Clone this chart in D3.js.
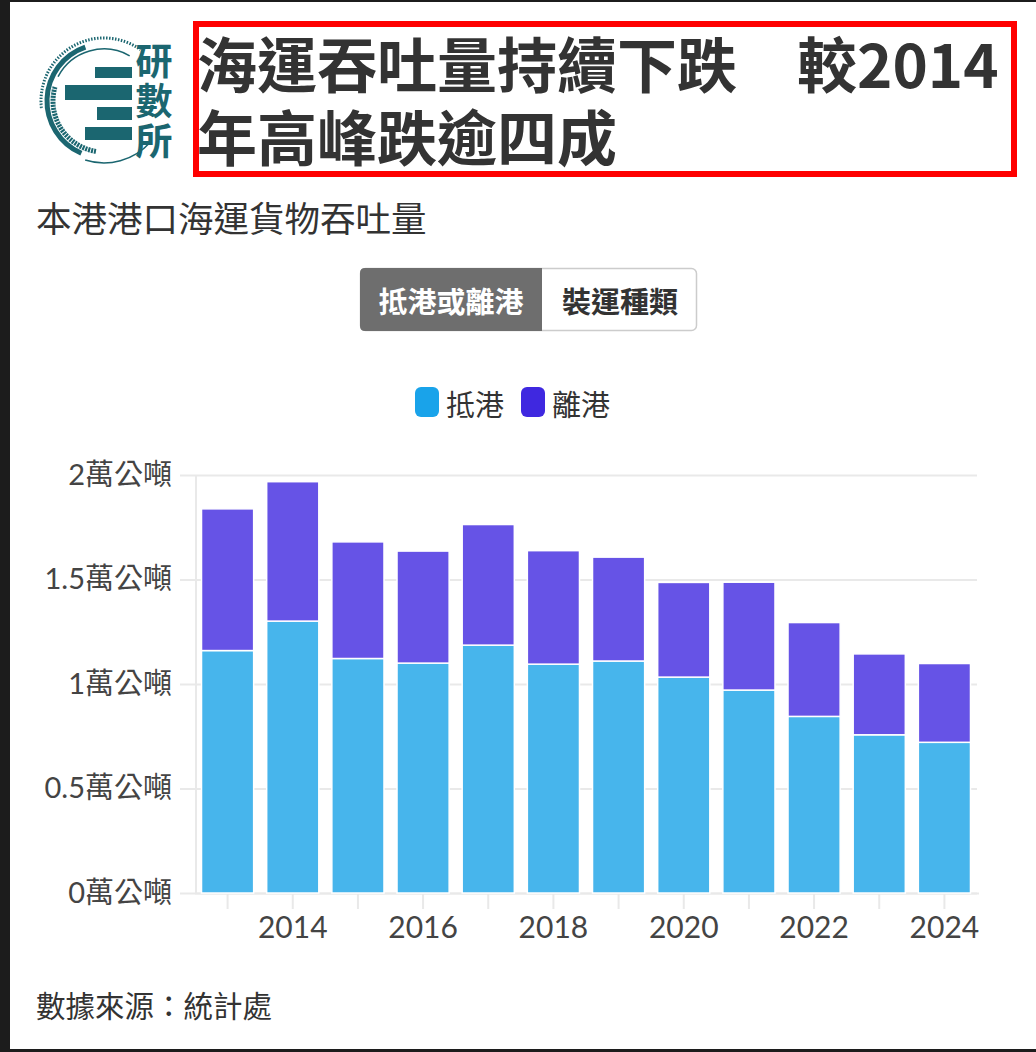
<!DOCTYPE html>
<html lang="zh-Hant">
<head>
<meta charset="UTF-8">
<title>本港港口海運貨物吞吐量</title>
<script src="https://d3js.org/d3.v7.min.js"></script>
<style>
  body { margin: 0; background: #fff; }
  #wrap { position: relative; width: 1036px; height: 1052px; }
  #chart svg { position: absolute; left: 0; top: 0; }
  #title { position: absolute; left: 197px; top: 25px; width: 815px;
           font-family: "Noto Sans CJK TC", sans-serif; font-weight: 700;
           font-size: 60px; line-height: 73px; color: #333; }
  text { font-family: Lato, "Noto Sans CJK TC", sans-serif; }
</style>
</head>
<body>
<div id="wrap">
  <div id="chart"></div>
  <div id="title"></div>
</div>
<script>
const years = [2013, 2014, 2015, 2016, 2017, 2018, 2019, 2020, 2021, 2022, 2023, 2024]
const arrivals = [1.160, 1.301, 1.122, 1.100, 1.186, 1.095, 1.110, 1.033, 0.971, 0.845, 0.757, 0.721]
const departures = [0.678, 0.667, 0.558, 0.536, 0.577, 0.543, 0.497, 0.453, 0.516, 0.449, 0.387, 0.377]
const seriesNames = ["抵港", "離港"]
const yTicks = [0, 0.5, 1, 1.5, 2]
const title = "海運吞吐量持續下跌　較2014年高峰跌逾四成"

const W = 1036, H = 1052
const cjk = '"Noto Sans CJK TC", sans-serif'
const colors = ["#47b5ec", "#6653e6"]
const legendColors = ["#19a3ea", "#3f28e0"]
const teal = "#1b6670"

const svg = d3.select("#chart").append("svg")
    .attr("width", W).attr("height", H)

// frame
svg.append("rect").attr("x", 0).attr("y", 0).attr("width", 10).attr("height", H).attr("fill", "#1c1c1c")
svg.append("rect").attr("x", 0).attr("y", 0).attr("width", W).attr("height", 2).attr("fill", "#1c1c1c")
svg.append("rect").attr("x", 0).attr("y", H - 3).attr("width", W).attr("height", 3).attr("fill", "#1c1c1c")

// logo
const logo = svg.append("g").attr("transform", "translate(104,101)")
const arcPath = (r, a0, a1) => d3.arc()({innerRadius: r, outerRadius: r, startAngle: a0, endAngle: a1})
logo.append("path").attr("d", arcPath(57, 3.55, 5.95))
    .attr("fill", "none").attr("stroke", teal).attr("stroke-width", 5)
logo.append("path").attr("d", arcPath(63, 4.6, 6.9))
    .attr("fill", "none").attr("stroke", teal).attr("stroke-width", 3).attr("stroke-dasharray", "1.2 1.8")
logo.append("path").attr("d", arcPath(51, 3.3, 5.0))
    .attr("fill", "none").attr("stroke", teal).attr("stroke-width", 5).attr("stroke-dasharray", "1.2 1.8")
logo.append("path").attr("d", arcPath(62, 2.3, 3.45))
    .attr("fill", "none").attr("stroke", teal).attr("stroke-width", 1.5)
logo.append("path").attr("d", arcPath(52, 5.2, 6.8))
    .attr("fill", "none").attr("stroke", teal).attr("stroke-width", 1.5)
const logoBars = [[-9, -34, 11], [-39, -16, 15], [-7, 6, 13], [-19, 26, 13]]
logo.selectAll(".lb").data(logoBars).enter().append("rect")
    .attr("x", d => d[0]).attr("y", d => d[1])
    .attr("width", d => 28 - d[0]).attr("height", d => d[2])
    .attr("fill", teal)
svg.append("text")
    .attr("x", 154).attr("y", 42)
    .style("writing-mode", "vertical-rl").style("letter-spacing", "3px")
    .style("font-family", cjk).style("font-weight", 700).style("font-size", "37px")
    .attr("fill", teal).text("研數所")

// title
svg.append("rect").attr("x", 196).attr("y", 24).attr("width", 818).attr("height", 150)
    .attr("fill", "none").attr("stroke", "#f00").attr("stroke-width", 6)
d3.select("#title").text(title)

svg.append("text").attr("x", 36).attr("y", 216).attr("dominant-baseline", "central")
    .style("font-family", cjk).style("font-size", "35.5px").attr("fill", "#333")
    .text("本港港口海運貨物吞吐量")

// buttons
const btn = svg.append("g")
btn.append("rect").attr("x", 360.5).attr("y", 268.5).attr("width", 336).attr("height", 62)
    .attr("rx", 5).attr("fill", "#fff").attr("stroke", "#ccc").attr("stroke-width", 1.5)
btn.append("path")
    .attr("d", "M542,268 H365 Q360,268 360,273 V326 Q360,331 365,331 H542 Z")
    .attr("fill", "#6e6e6e")
btn.append("text").attr("x", 451).attr("y", 300).attr("text-anchor", "middle").attr("dominant-baseline", "central")
    .style("font-family", cjk).style("font-weight", 700).style("font-size", "29px")
    .attr("fill", "#fff").text("抵港或離港")
btn.append("text").attr("x", 620).attr("y", 300).attr("text-anchor", "middle").attr("dominant-baseline", "central")
    .style("font-family", cjk).style("font-weight", 700).style("font-size", "29px")
    .attr("fill", "#333").text("裝運種類")

// legend
const legend = svg.append("g")
const legendX = [415, 521]
seriesNames.forEach((name, i) => {
    legend.append("rect").attr("x", legendX[i]).attr("y", 387).attr("width", 24).attr("height", 30)
        .attr("rx", 6).attr("fill", legendColors[i])
    legend.append("text").attr("x", legendX[i] + 31).attr("y", 403).attr("dominant-baseline", "central")
        .style("font-family", cjk).style("font-size", "29px").attr("fill", "#333").text(name)
})

// chart
const plotLeft = 195, plotRight = 977, plotTop = 475, plotBottom = 893
const x = d3.scaleBand().domain(years).range([plotLeft, plotRight]).paddingInner(0.2).paddingOuter(0.1)
const y = d3.scaleLinear().domain([0, 2]).range([plotBottom, plotTop])

const yAxis = svg.append("g").attr("transform", `translate(${plotRight},0)`)
    .call(d3.axisLeft(y).tickValues(yTicks).tickSize(plotRight - 180).tickPadding(8)
        .tickFormat(d => d + "萬公噸"))
yAxis.select(".domain").remove()
yAxis.selectAll("line").attr("stroke", "#e9e9e9").attr("stroke-width", 2)
yAxis.selectAll("text").style("font-size", "29px").attr("fill", "#444")

svg.append("line").attr("x1", plotLeft + 1).attr("x2", plotLeft + 1).attr("y1", plotTop).attr("y2", plotBottom)
    .attr("stroke", "#e9e9e9").attr("stroke-width", 2)

const xAxis = svg.append("g").attr("transform", `translate(0,${plotBottom})`)
    .call(d3.axisBottom(x).tickSize(16).tickPadding(8)
        .tickFormat(d => d % 2 === 0 ? d : ""))
xAxis.select(".domain").attr("d", `M${plotLeft},0.5H${plotRight + 2}`).attr("stroke", "#e9e9e9").attr("stroke-width", 2)
xAxis.selectAll("line").attr("stroke", "#e9e9e9").attr("stroke-width", 2)
xAxis.selectAll("text").style("font-size", "30px").attr("fill", "#444")

const stacked = d3.stack().keys([0, 1])(years.map((yr, i) => [arrivals[i], departures[i]]))
svg.append("g").selectAll("g").data(stacked).enter().append("g")
    .attr("fill", (d, i) => colors[i])
    .selectAll("rect").data(d => d).enter().append("rect")
    .attr("x", (d, i) => x(years[i]))
    .attr("width", x.bandwidth())
    .attr("y", d => y(d[1]))
    .attr("height", d => y(d[0]) - y(d[1]))
    .attr("stroke", "#fff").attr("stroke-width", 1.5)

svg.append("text").attr("x", 36).attr("y", 1004).attr("dominant-baseline", "central")
    .style("font-family", cjk).style("font-size", "29.5px").attr("fill", "#333")
    .text("數據來源：統計處")
</script>
</body>
</html>
